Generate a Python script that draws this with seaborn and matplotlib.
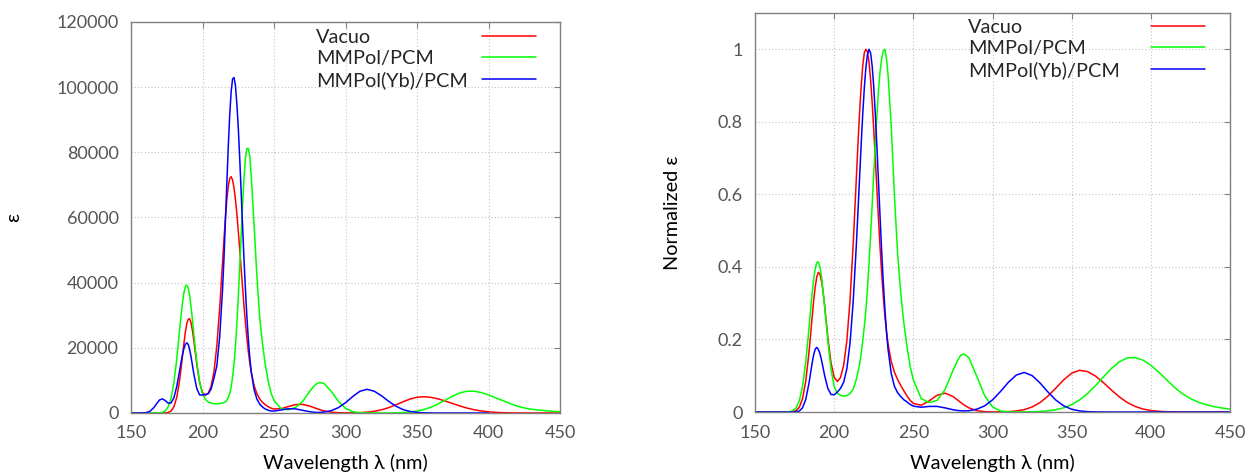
import matplotlib
matplotlib.use("Agg")
import matplotlib.pyplot as plt
from matplotlib.ticker import FuncFormatter, MultipleLocator
import pandas as pd
import seaborn as sns

# wavelength grid (nm) (denser around the main bands)
wavelength = [150, 155, 160, 163, 166, 168, 170, 172, 174, 176, 178, 180, 182, 184,
              185, 186, 187, 188, 189, 190, 191, 192, 193, 194, 196, 198, 200, 202, 204, 206, 208, 210, 212, 214,
              215, 216, 217, 218, 219, 220, 221, 222, 223, 224, 225, 226, 227, 228, 229, 230, 231, 232, 233, 234,
              236, 238, 240, 242, 244, 246, 248, 250,
              255, 260, 265, 270, 275, 278, 280, 282, 285, 290, 295, 300, 305, 310, 315, 320, 325, 330,
              335, 340, 345, 350, 355, 360, 365, 370, 375, 380, 385, 390, 395, 400, 405, 410,
              415, 420, 425, 430, 435, 440, 445, 450]

labels = ["Vacuo", "MMPol/PCM", "MMPol(Yb)/PCM"]
colors = ["#ff0000", "#00ff00", "#0000ff"]

# left panel: molar absorptivity
eps_vacuo = [0, 0, 0, 0, 0, 0, 0, 6, 35, 160, 610, 1920, 4870, 10200,
             13740, 17600, 21440, 24900, 27430, 28800, 28930, 27600, 25160, 21900, 14800, 9200, 6250, 5450, 6100, 8230, 12700, 20650, 32300, 46400,
             53460, 60000, 65520, 69700, 72000, 72550, 71490, 69100, 65570, 61100, 55840, 50100, 44240, 38400, 32790, 27600, 22990, 18900, 15490, 12600,
             8470, 5900, 4300, 3240, 2480, 1890, 1475, 1225,
             1320, 1980, 2580, 2650, 2110, 1640, 1310, 1013, 640, 240, 76, 33, 50, 114, 256, 523, 967, 1623,
             2470, 3410, 4270, 4845, 4995, 4780, 4300, 3630, 2880, 2150, 1505, 990, 612, 355, 194, 99,
             48, 22, 10, 4, 2, 0, 0, 0]
eps_mmpol = [0, 0, 0, 0, 0, 13, 57, 212, 684, 1900, 4550, 9390, 16700, 25670,
             30100, 34000, 37020, 38840, 39260, 38280, 35930, 32500, 28370, 23860, 15600, 9400, 5860, 4170, 3400, 3050, 2870, 2850, 2900, 3050,
             3200, 3400, 3890, 4700, 5990, 8000, 10960, 15100, 20610, 27500, 35800, 45000, 54700, 64000, 72100, 78200, 81200, 81200, 78900, 73000,
             58000, 42000, 29000, 21000, 14500, 9500, 6000, 3800,
             1300, 1000, 1700, 3600, 6650, 8300, 9040, 9380, 9040, 6650, 3580, 1420, 413, 90, 15, 3, 7, 20,
             53, 128, 286, 579, 1077, 1828, 2838, 4020, 5215, 6180, 6700, 6680, 6270, 5550, 4640, 3800,
             2900, 2100, 1550, 1150, 900, 700, 520, 400]
eps_mmpol_yb = [0, 1, 69, 450, 1671, 2935, 4024, 4332, 3776, 3015, 3059, 4700, 8207, 13073,
                15625, 17966, 19850, 21090, 21550, 21020, 19460, 17150, 14440, 11730, 7450, 5540, 5490, 5700, 5900, 7400, 10700, 14500, 23500, 38000,
                47700, 59140, 70820, 81940, 91550, 98600, 102540, 102950, 100470, 94740, 87380, 78020, 67730, 57170, 47000, 37690, 29530, 22690, 17170, 12865,
                7240, 4270, 2707, 1789, 1195, 821, 630, 602,
                937, 1308, 1258, 819, 379, 226, 182, 183, 275, 715, 1651, 3175, 5057, 6665, 7270, 6702, 5319, 3631,
                2134, 1079, 469, 176, 57, 16, 4, 0, 0, 0, 0, 0, 0, 0]

# right panel: normalized spectra
norm_vacuo = [0, 0, 0, 0, 0, 0, 0, 0.0002, 0.001, 0.004, 0.0133, 0.0366, 0.084, 0.161,
              0.2088, 0.258, 0.3054, 0.345, 0.3727, 0.385, 0.38, 0.36, 0.3308, 0.291, 0.205, 0.135, 0.0956, 0.0842, 0.0951, 0.1295, 0.1967, 0.3084, 0.4641, 0.6463,
              0.7383, 0.8233, 0.896, 0.9534, 0.9899, 1.0, 0.9935, 0.9636, 0.9153, 0.8518, 0.7773, 0.6961, 0.6121, 0.5294, 0.4516, 0.3806, 0.3189, 0.2662, 0.223, 0.1882,
              0.1396, 0.1101, 0.09, 0.0733, 0.0584, 0.0441, 0.0319, 0.0235,
              0.0187, 0.0307, 0.0461, 0.0519, 0.0428, 0.0329, 0.026, 0.0195, 0.0116, 0.0038, 0.0009, 0.0003, 0.0004, 0.001, 0.0028, 0.0065, 0.0138, 0.026,
              0.0438, 0.066, 0.0889, 0.1069, 0.115, 0.1114, 0.0992, 0.0811, 0.0608, 0.0419, 0.0265, 0.0154, 0.0082, 0.004, 0.0018, 0.0008,
              0.0003, 0.0001, 0, 0, 0, 0, 0, 0]
norm_mmpol = [0, 0, 0, 0, 0, 0.0001, 0.0003, 0.0011, 0.0038, 0.0118, 0.0312, 0.0706, 0.1366, 0.2271,
              0.2763, 0.3235, 0.3645, 0.395, 0.4122, 0.4137, 0.3996, 0.373, 0.3322, 0.289, 0.195, 0.118, 0.07, 0.052, 0.046, 0.044, 0.045, 0.051, 0.063, 0.09,
              0.11, 0.13, 0.16, 0.195, 0.235, 0.28, 0.34, 0.41, 0.49, 0.572, 0.66, 0.7425, 0.82, 0.889, 0.94, 0.975, 0.995, 1.0, 0.975, 0.93,
              0.79, 0.6, 0.44, 0.33, 0.245, 0.18, 0.125, 0.088,
              0.037, 0.026, 0.032, 0.062, 0.114, 0.143, 0.157, 0.16, 0.15, 0.0994, 0.045, 0.0139, 0.0029, 0.0005, 0.0001, 0.0003, 0.0006, 0.0014,
              0.0031, 0.0062, 0.0117, 0.0204, 0.0334, 0.051, 0.0726, 0.0964, 0.1195, 0.1382, 0.1491, 0.1503, 0.143, 0.1288, 0.1098, 0.0886,
              0.0676, 0.05, 0.037, 0.027, 0.02, 0.0145, 0.011, 0.008]
norm_mmpol_yb = [0, 0, 0, 0, 0, 0, 0, 0, 0, 0.0006, 0.0029, 0.0115, 0.0343, 0.0776,
                 0.1052, 0.133, 0.1571, 0.173, 0.178, 0.1727, 0.161, 0.1427, 0.1214, 0.0998, 0.0647, 0.0483, 0.0476, 0.0549, 0.0652, 0.0826, 0.1194, 0.1902, 0.3051, 0.4623,
                 0.552, 0.644, 0.735, 0.82, 0.8925, 0.949, 0.9858, 1.0, 0.9892, 0.9526, 0.8948, 0.8176, 0.728, 0.6314, 0.5348, 0.442, 0.3578, 0.2844, 0.2228, 0.1733,
                 0.1065, 0.0712, 0.0535, 0.0427, 0.0336, 0.0278, 0.0208, 0.0161,
                 0.0131, 0.0154, 0.0154, 0.0113, 0.0063, 0.0041, 0.0033, 0.0029, 0.0035, 0.0076, 0.0169, 0.0334, 0.0564, 0.0818, 0.1019, 0.109, 0.1004, 0.08,
                 0.0551, 0.0328, 0.0169, 0.0075, 0.0029, 0.001, 0.0003, 0.0001, 0, 0, 0, 0, 0, 0, 0, 0,
                 0, 0, 0, 0, 0, 0, 0, 0]


def long_frame(series):
    frames = []
    for label, vals in zip(labels, series):
        frames.append(pd.DataFrame({"wavelength": wavelength[:len(vals)],
                                    "value": vals, "series": label}))
    return pd.concat(frames, ignore_index=True)


df_abs = long_frame([eps_vacuo, eps_mmpol, eps_mmpol_yb])
df_norm = long_frame([norm_vacuo, norm_mmpol, norm_mmpol_yb])

sns.set_theme(style="white")
plt.rcParams["font.family"] = ["Lato", "DejaVu Sans"]

fig = plt.figure(figsize=(12.48, 4.74), dpi=100)
ax1 = fig.add_axes([0.105, 0.1287, 0.3438, 0.8249])
ax2 = fig.add_axes([0.605, 0.1308, 0.3806, 0.8418])

frame_c = "#808080"
tick_c = "#555555"
fs = 13      # tick labels
fs_lab = 14.3  # axis titles and key

for ax, df in [(ax1, df_abs), (ax2, df_norm)]:
    sns.lineplot(data=df, x="wavelength", y="value", hue="series", hue_order=labels,
                 palette=colors, estimator=None, sort=False, linewidth=1.1,
                 legend=False, ax=ax)
    ax.set_xlim(150, 450)
    ax.xaxis.set_major_locator(MultipleLocator(50))
    ax.grid(True, linestyle=(0, (1, 2)), color="#c4c4c4", linewidth=0.8)
    for sp in ax.spines.values():
        sp.set_color(frame_c)
        sp.set_linewidth(1.0)
    ax.tick_params(direction="in", length=4, width=0.8, color=frame_c,
                   top=True, right=True, labelcolor=tick_c, labelsize=fs, pad=9)
    ax.set_xlabel("Wavelength λ (nm)", fontsize=fs_lab, color="black")

ax1.set_ylim(0, 120000)
ax1.yaxis.set_major_locator(MultipleLocator(20000))
ax1.set_ylabel("ε", fontsize=fs_lab, color="black")
ax1.xaxis.set_label_coords(0.5, -0.105)
ax1.yaxis.set_label_coords(-0.255, 0.5)

ax2.set_ylim(0, 1.1)
ax2.yaxis.set_major_locator(MultipleLocator(0.2))
ax2.yaxis.set_major_formatter(FuncFormatter(lambda v, p: f"{v:g}"))
ax2.set_ylabel("Normalized ε", fontsize=fs_lab, color="black")
ax2.xaxis.set_label_coords(0.5, -0.105)
ax2.yaxis.set_label_coords(-0.155, 0.5)


# gnuplot-like key: text left aligned, sample line flush right
def add_key(ax, anchor, row_width):
    leg = ax.legend(ax.get_lines()[:3], labels, loc="upper left", bbox_to_anchor=anchor,
                    bbox_transform=fig.transFigure, frameon=False, markerfirst=False,
                    handlelength=2.7, handletextpad=0.5, labelspacing=0.2,
                    borderpad=0, borderaxespad=0, fontsize=fs_lab)
    col = leg._legend_handle_box.get_children()[0]
    col.align = "left"
    for row in col.get_children():
        row.mode = "expand"
        row.width = row_width


add_key(ax1, (316 / 1248, 1 - 29 / 474), 220)
add_key(ax2, (968 / 1248, 1 - 19 / 474), 237)

fig.savefig("out.png", dpi=100)
